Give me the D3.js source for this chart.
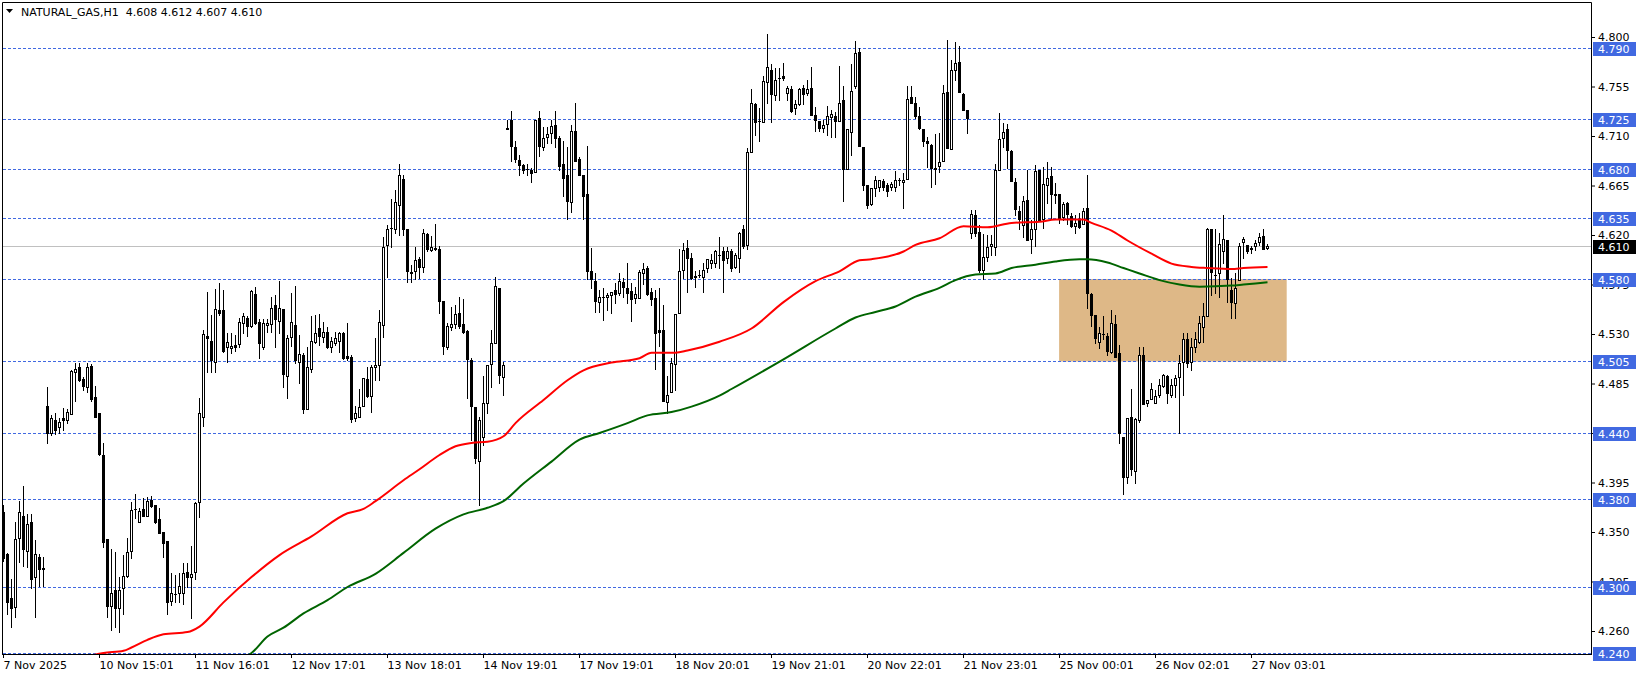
<!DOCTYPE html>
<html><head><meta charset="utf-8">
<script src="https://cdn.jsdelivr.net/npm/d3@7"></script>
<style>
html,body{margin:0;padding:0;background:#fff;}
svg{display:block;}
text{font-family:"DejaVu Sans",sans-serif;font-size:11px;}
</style>
</head><body>
<svg id="chart" width="1641" height="678"></svg>
<script>
// ---------------- DATA ----------------
const symbolTitle = "NATURAL_GAS,H1";
const lastOHLC = [4.608, 4.612, 4.607, 4.610];
const currentPrice = 4.610;

const open = [
4.368,4.330,4.290,4.282,4.345,4.365,4.333,4.359,4.309,4.327,
4.317,4.465,4.440,4.452,4.445,4.454,4.452,4.457,4.495,4.500,
4.489,4.482,4.501,4.473,4.458,4.420,4.344,4.283,4.297,4.281,
4.299,4.310,4.333,4.370,4.359,4.371,4.365,4.379,4.375,4.362,
4.350,4.342,4.287,4.293,4.295,4.295,4.314,4.309,4.314,4.377,
4.455,4.528,4.524,4.505,4.552,4.552,4.518,4.517,4.520,4.521,
4.540,4.545,4.537,4.566,4.541,4.518,4.538,4.539,4.556,4.542,
4.553,4.492,4.527,4.538,4.505,4.511,4.462,4.498,4.523,4.535,
4.527,4.532,4.518,4.522,4.524,4.531,4.510,4.509,4.454,4.455,
4.465,4.489,4.474,4.500,4.502,4.538,4.611,4.625,4.625,4.647,
4.671,4.625,4.586,4.587,4.598,4.591,4.621,4.606,4.608,4.607,
4.560,4.518,4.536,4.539,4.549,4.539,4.533,4.506,4.464,4.415,
4.436,4.467,4.503,4.522,4.572,4.491,4.717,4.725,4.700,4.688,
4.684,4.680,4.679,4.677,4.726,4.700,4.709,4.713,4.720,4.708,
4.685,4.675,4.650,4.715,4.689,4.675,4.657,4.587,4.578,4.559,
4.563,4.564,4.565,4.570,4.567,4.577,4.572,4.569,4.563,4.563,
4.585,4.590,4.568,4.563,4.534,4.534,4.468,4.477,4.503,4.549,
4.588,4.608,4.599,4.583,4.583,4.582,4.590,4.595,4.595,4.601,
4.605,4.599,4.605,4.591,4.599,4.625,4.611,4.695,4.739,4.723,
4.723,4.759,4.770,4.747,4.762,4.765,4.749,4.753,4.735,4.739,
4.754,4.749,4.754,4.729,4.724,4.717,4.721,4.727,4.728,4.724,
4.743,4.680,4.714,4.755,4.786,4.700,4.665,4.648,4.663,4.664,
4.669,4.665,4.664,4.664,4.669,4.668,4.671,4.745,4.740,4.728,
4.716,4.705,4.702,4.681,4.683,4.687,4.750,4.698,4.770,4.777,
4.748,4.734,4.622,4.638,4.623,4.588,4.600,4.610,4.609,4.679,
4.708,4.716,4.696,4.668,4.642,4.629,4.652,4.616,4.625,4.679,
4.635,4.665,4.674,4.657,4.657,4.636,4.649,4.637,4.628,4.634,
4.630,4.645,4.566,4.547,4.523,4.529,4.528,4.514,4.539,4.513,
4.436,4.400,4.455,4.405,4.452,4.511,4.467,4.471,4.467,4.475,
4.483,4.492,4.475,4.484,4.491,4.505,4.525,4.505,4.518,4.523,
4.536,4.546,4.625,4.583,4.585,4.605,4.615,4.570,4.558,4.579,
4.614,4.611,4.608,4.610,4.614,4.619,4.608];

const high = [
4.375,4.331,4.307,4.359,4.378,4.392,4.366,4.366,4.343,4.330,
4.327,4.482,4.456,4.458,4.454,4.463,4.462,4.497,4.504,4.504,
4.491,4.504,4.503,4.483,4.458,4.431,4.344,4.335,4.332,4.309,
4.329,4.345,4.377,4.385,4.372,4.381,4.382,4.383,4.375,4.372,
4.350,4.342,4.313,4.311,4.313,4.322,4.322,4.337,4.377,4.472,
4.534,4.568,4.547,4.571,4.576,4.570,4.531,4.531,4.529,4.545,
4.549,4.546,4.570,4.573,4.544,4.544,4.544,4.564,4.565,4.578,
4.553,4.529,4.567,4.574,4.529,4.513,4.518,4.546,4.547,4.548,
4.541,4.536,4.527,4.532,4.532,4.532,4.540,4.511,4.465,4.480,
4.490,4.500,4.502,4.526,4.552,4.618,4.629,4.653,4.661,4.685,
4.675,4.625,4.593,4.609,4.600,4.625,4.622,4.619,4.630,4.610,
4.560,4.540,4.555,4.556,4.564,4.562,4.534,4.508,4.464,4.455,
4.492,4.502,4.534,4.582,4.572,4.505,4.725,4.733,4.705,4.693,
4.685,4.685,4.681,4.725,4.733,4.718,4.718,4.725,4.733,4.710,
4.705,4.700,4.720,4.740,4.691,4.675,4.701,4.608,4.585,4.570,
4.572,4.567,4.568,4.576,4.585,4.581,4.595,4.576,4.573,4.588,
4.595,4.592,4.572,4.570,4.572,4.556,4.492,4.508,4.548,4.607,
4.613,4.615,4.604,4.587,4.588,4.595,4.598,4.603,4.606,4.618,
4.609,4.609,4.607,4.604,4.623,4.629,4.699,4.753,4.740,4.735,
4.765,4.803,4.775,4.772,4.772,4.776,4.755,4.755,4.743,4.754,
4.756,4.761,4.773,4.736,4.724,4.725,4.737,4.734,4.732,4.774,
4.755,4.716,4.775,4.796,4.790,4.700,4.665,4.663,4.674,4.670,
4.671,4.667,4.668,4.678,4.672,4.676,4.755,4.755,4.745,4.736,
4.716,4.709,4.703,4.712,4.713,4.756,4.797,4.779,4.795,4.792,
4.749,4.734,4.643,4.643,4.629,4.621,4.620,4.620,4.685,4.731,
4.722,4.721,4.697,4.672,4.646,4.655,4.679,4.634,4.684,4.679,
4.682,4.686,4.682,4.667,4.657,4.650,4.650,4.640,4.638,4.640,
4.645,4.675,4.567,4.547,4.536,4.546,4.531,4.552,4.547,4.520,
4.436,4.454,4.480,4.454,4.518,4.518,4.470,4.485,4.479,4.489,
4.494,4.493,4.489,4.493,4.511,4.531,4.531,4.526,4.532,4.546,
4.558,4.626,4.625,4.625,4.622,4.638,4.615,4.581,4.585,4.613,
4.618,4.611,4.610,4.615,4.622,4.625,4.612];

const low = [
4.324,4.275,4.264,4.273,4.323,4.319,4.318,4.299,4.273,4.301,
4.301,4.431,4.438,4.439,4.440,4.443,4.449,4.457,4.469,4.487,
4.479,4.477,4.469,4.455,4.420,4.336,4.273,4.261,4.264,4.259,
4.275,4.309,4.326,4.363,4.359,4.365,4.365,4.373,4.358,4.349,
4.327,4.275,4.284,4.286,4.286,4.285,4.300,4.272,4.307,4.364,
4.446,4.495,4.495,4.495,4.547,4.514,4.505,4.513,4.515,4.518,
4.531,4.528,4.536,4.539,4.508,4.516,4.532,4.532,4.518,4.531,
4.482,4.472,4.519,4.504,4.485,4.458,4.462,4.495,4.522,4.520,
4.523,4.517,4.514,4.520,4.514,4.507,4.506,4.450,4.451,4.455,
4.465,4.473,4.459,4.488,4.488,4.527,4.582,4.609,4.622,4.620,
4.620,4.577,4.577,4.580,4.581,4.586,4.605,4.605,4.606,4.549,
4.512,4.516,4.534,4.535,4.535,4.531,4.472,4.434,4.413,4.375,
4.429,4.458,4.482,4.522,4.485,4.475,4.716,4.687,4.686,4.675,
4.676,4.675,4.668,4.677,4.692,4.697,4.704,4.704,4.700,4.679,
4.655,4.635,4.641,4.687,4.675,4.635,4.580,4.572,4.550,4.550,
4.543,4.552,4.549,4.558,4.565,4.564,4.558,4.542,4.558,4.563,
4.575,4.565,4.556,4.498,4.519,4.469,4.458,4.477,4.479,4.549,
4.581,4.568,4.580,4.573,4.582,4.568,4.586,4.590,4.591,4.590,
4.568,4.595,4.587,4.590,4.586,4.608,4.607,4.695,4.711,4.705,
4.723,4.740,4.723,4.743,4.743,4.761,4.743,4.732,4.730,4.738,
4.739,4.747,4.729,4.715,4.715,4.714,4.711,4.709,4.709,4.724,
4.651,4.680,4.693,4.754,4.701,4.661,4.645,4.647,4.655,4.660,
4.661,4.655,4.661,4.660,4.665,4.645,4.671,4.740,4.726,4.716,
4.701,4.682,4.664,4.666,4.677,4.687,4.699,4.698,4.761,4.750,
4.734,4.713,4.617,4.619,4.586,4.580,4.596,4.602,4.602,4.679,
4.700,4.681,4.669,4.638,4.625,4.618,4.615,4.604,4.610,4.633,
4.626,4.649,4.635,4.649,4.631,4.634,4.630,4.627,4.622,4.626,
4.630,4.554,4.537,4.522,4.517,4.525,4.511,4.513,4.509,4.431,
4.385,4.395,4.402,4.395,4.450,4.466,4.465,4.471,4.467,4.473,
4.482,4.467,4.473,4.473,4.440,4.475,4.500,4.497,4.514,4.522,
4.523,4.546,4.565,4.567,4.564,4.595,4.559,4.545,4.545,4.579,
4.599,4.604,4.604,4.606,4.611,4.607,4.607];

const close = [
4.326,4.286,4.281,4.344,4.368,4.335,4.357,4.307,4.330,4.316,
4.316,4.440,4.454,4.443,4.450,4.452,4.459,4.496,4.498,4.488,
4.483,4.500,4.471,4.455,4.421,4.341,4.283,4.295,4.281,4.297,
4.310,4.332,4.370,4.371,4.369,4.365,4.378,4.374,4.359,4.349,
4.340,4.286,4.295,4.294,4.301,4.313,4.309,4.312,4.376,4.458,
4.530,4.526,4.506,4.553,4.549,4.515,4.523,4.519,4.518,4.541,
4.546,4.537,4.569,4.540,4.522,4.540,4.540,4.554,4.544,4.554,
4.494,4.526,4.541,4.506,4.512,4.462,4.500,4.524,4.531,4.528,
4.532,4.518,4.524,4.526,4.531,4.508,4.508,4.453,4.458,4.464,
4.490,4.474,4.500,4.502,4.541,4.609,4.625,4.626,4.650,4.675,
4.625,4.587,4.585,4.597,4.591,4.622,4.607,4.609,4.607,4.560,
4.519,4.537,4.539,4.548,4.537,4.532,4.507,4.465,4.417,4.452,
4.467,4.502,4.522,4.574,4.493,4.502,4.716,4.701,4.689,4.684,
4.679,4.680,4.676,4.725,4.701,4.708,4.712,4.719,4.708,4.683,
4.672,4.651,4.715,4.687,4.675,4.655,4.587,4.580,4.560,4.564,
4.564,4.565,4.568,4.566,4.578,4.573,4.567,4.562,4.566,4.586,
4.589,4.566,4.562,4.531,4.532,4.469,4.475,4.504,4.548,4.587,
4.606,4.599,4.581,4.582,4.584,4.588,4.598,4.597,4.605,4.602,
4.597,4.605,4.590,4.602,4.622,4.610,4.695,4.740,4.723,4.724,
4.760,4.773,4.748,4.761,4.763,4.763,4.754,4.733,4.739,4.753,
4.748,4.753,4.729,4.725,4.717,4.720,4.728,4.730,4.724,4.740,
4.680,4.716,4.751,4.785,4.701,4.665,4.647,4.663,4.670,4.670,
4.664,4.660,4.666,4.670,4.670,4.670,4.744,4.740,4.728,4.717,
4.705,4.704,4.681,4.680,4.686,4.749,4.699,4.770,4.776,4.750,
4.734,4.726,4.639,4.622,4.588,4.600,4.609,4.612,4.679,4.707,
4.714,4.697,4.669,4.644,4.635,4.651,4.615,4.625,4.678,4.634,
4.666,4.672,4.657,4.656,4.635,4.648,4.639,4.628,4.631,4.627,
4.642,4.567,4.547,4.526,4.531,4.530,4.515,4.540,4.509,4.440,
4.400,4.454,4.407,4.453,4.511,4.466,4.470,4.480,4.474,4.484,
4.493,4.476,4.484,4.490,4.504,4.525,4.504,4.518,4.525,4.540,
4.546,4.625,4.586,4.584,4.612,4.616,4.580,4.559,4.572,4.610,
4.616,4.605,4.607,4.613,4.618,4.607,4.610];

// moving averages: [bar index, value]
const maRed = [[20,4.236],[25,4.240],[30,4.242],[32,4.245],[36,4.252],[40,4.257],[46,4.259],[49,4.264],[55,4.286],[62,4.309],[69,4.329],[77,4.346],[86,4.367],[90,4.371],[93,4.378],[100,4.397],[104,4.407],[109,4.420],[113,4.428],[117,4.431],[121,4.432],[125,4.437],[128,4.449],[135,4.470],[141,4.488],[145,4.497],[152,4.504],[159,4.508],[162,4.513],[168,4.513],[171,4.515],[179,4.523],[187,4.535],[195,4.559],[203,4.578],[209,4.587],[214,4.597],[217,4.598],[225,4.605],[228,4.611],[234,4.617],[240,4.628],[246,4.627],[252,4.631],[259,4.632],[263,4.634],[270,4.634],[272,4.631],[277,4.624],[281,4.615],[287,4.603],[292,4.594],[297,4.591],[301,4.590],[307,4.589],[310,4.590],[316,4.591]];
const maGreen = [[57,4.233],[62,4.240],[66,4.255],[70,4.263],[75,4.276],[81,4.288],[86,4.300],[93,4.312],[100,4.331],[108,4.353],[115,4.366],[121,4.372],[125,4.378],[130,4.394],[137,4.414],[144,4.434],[149,4.440],[156,4.449],[161,4.456],[167,4.459],[172,4.464],[179,4.474],[182,4.480],[195,4.507],[208,4.535],[213,4.545],[218,4.550],[223,4.555],[228,4.564],[234,4.572],[238,4.579],[243,4.584],[248,4.585],[252,4.590],[258,4.593],[263,4.596],[269,4.598],[271,4.598],[276,4.595],[280,4.590],[284,4.585],[289,4.579],[294,4.575],[299,4.573],[307,4.574],[310,4.575],[316,4.577]];

const timeTickBars = [0,24,48,72,96,120,144,168,192,216,240,264,288,312];
const timeTickLabels = ["7 Nov 2025","10 Nov 15:01","11 Nov 16:01","12 Nov 17:01","13 Nov 18:01","14 Nov 19:01","17 Nov 19:01","18 Nov 20:01","19 Nov 21:01","20 Nov 22:01","21 Nov 23:01","25 Nov 00:01","26 Nov 02:01","27 Nov 03:01"];
const priceTicks = [4.800,4.755,4.710,4.665,4.620,4.575,4.530,4.485,4.440,4.395,4.350,4.305,4.260];
const levels = [4.790,4.725,4.680,4.635,4.580,4.505,4.440,4.380,4.300,4.240];
const zoneBars = [263.9, 320.8];
const zonePrices = [4.580, 4.505];

// ---------------- DRAW ----------------
const W = 1641, H = 678;
const frameL = 2.5, frameT = 2.5, frameR = 1591.5, frameB = 654.5;
const x = d3.scaleLinear().domain([0, 312]).range([3.5, 1251.5]);
const y = d3.scaleLinear().domain([4.24, 4.80]).range([653, 37]);
const py = v => Math.floor(y(v) + 0.001) + 0.5;

const svg = d3.select("#chart");
svg.append("rect").attr("width", W).attr("height", H).attr("fill", "#fff");
svg.append("defs").append("clipPath").attr("id", "plotClip")
  .append("rect").attr("x", 3).attr("y", 3).attr("width", 1588).attr("height", 651);
const plot = svg.append("g").attr("clip-path", "url(#plotClip)");

// zone rectangle
plot.append("rect")
  .attr("x", x(zoneBars[0])).attr("width", x(zoneBars[1]) - x(zoneBars[0]))
  .attr("y", y(zonePrices[0])).attr("height", y(zonePrices[1]) - y(zonePrices[0]))
  .attr("fill", "#DEB887");

// current price line
plot.append("line").attr("x1", 3).attr("x2", 1591)
  .attr("y1", py(currentPrice)).attr("y2", py(currentPrice))
  .attr("stroke", "#c0c0c0").attr("stroke-width", 1);

// horizontal levels
plot.selectAll("line.level").data(levels).join("line").attr("class", "level")
  .attr("x1", 3).attr("x2", 1591)
  .attr("y1", d => py(d)).attr("y2", d => py(d))
  .attr("stroke", "#4169E1").attr("stroke-width", 1).attr("stroke-dasharray", "3,2");

// candles
const candles = d3.range(open.length).map(i => ({ i, o: open[i], h: high[i], l: low[i], c: close[i] }));
const cg = plot.append("g");
cg.selectAll("line.wick").data(candles).join("line").attr("class", "wick")
  .attr("x1", d => x(d.i)).attr("x2", d => x(d.i))
  .attr("y1", d => Math.round(y(d.h))).attr("y2", d => Math.round(y(d.l)) + 1)
  .attr("stroke", "#000").attr("stroke-width", 1);
candles.forEach(d => {
  const top = Math.round(y(Math.max(d.o, d.c)));
  const bot = Math.round(y(Math.min(d.o, d.c)));
  const cx = x(d.i);
  if (d.c < d.o || bot - top <= 1) {
    cg.append("rect").attr("x", cx - 1.5).attr("width", 3)
      .attr("y", top).attr("height", Math.max(1, bot - top + (d.c < d.o ? 1 : 0)))
      .attr("fill", "#000");
  } else {
    cg.append("rect").attr("x", cx - 1).attr("width", 2)
      .attr("y", top + 0.5).attr("height", bot - top)
      .attr("fill", "#fff").attr("stroke", "#000").attr("stroke-width", 1);
  }
});

// moving averages
const line = d3.line().x(d => x(d[0])).y(d => y(d[1])).curve(d3.curveMonotoneX);
plot.append("path").datum(maRed).attr("d", line)
  .attr("fill", "none").attr("stroke", "#ff0000").attr("stroke-width", 2);
plot.append("path").datum(maGreen).attr("d", line)
  .attr("fill", "none").attr("stroke", "#006400").attr("stroke-width", 2);

// frame
const frame = svg.append("g").attr("stroke", "#000").attr("stroke-width", 1);
frame.append("line").attr("x1", frameL).attr("x2", frameL).attr("y1", frameT).attr("y2", frameB + 0.5);
frame.append("line").attr("x1", frameL).attr("x2", frameR).attr("y1", frameT).attr("y2", frameT);
frame.append("line").attr("x1", frameR).attr("x2", frameR).attr("y1", frameT).attr("y2", frameB + 0.5);
frame.append("line").attr("x1", frameL).attr("x2", frameR + 0.5).attr("y1", frameB).attr("y2", frameB);

// price axis
const axY = svg.append("g").attr("transform", "translate(1591,0)")
  .call(d3.axisRight(y).tickValues(priceTicks).tickSize(4).tickPadding(3).tickFormat(d3.format(".3f")));
axY.select(".domain").remove();
axY.attr("font-family", "DejaVu Sans").attr("font-size", 11);
axY.selectAll("line").attr("stroke", "#000");
axY.selectAll("text").attr("fill", "#000");

// time axis
const axX = svg.append("g").attr("transform", "translate(0,654)")
  .call(d3.axisBottom(x).offset(0).tickValues(timeTickBars).tickSize(4).tickPadding(3)
    .tickFormat((d, i) => timeTickLabels[i]));
axX.select(".domain").remove();
axX.attr("font-family", "DejaVu Sans").attr("font-size", 11);
axX.selectAll("line").attr("stroke", "#000");
axX.selectAll("text").attr("fill", "#000").attr("text-anchor", "start");

// level labels
const lab = svg.append("g");
levels.forEach(v => {
  const yy = Math.floor(y(v) + 0.001);
  lab.append("rect").attr("x", 1593).attr("y", yy - 6).attr("width", 43).attr("height", 14).attr("fill", "#4169E1");
  lab.append("text").attr("x", 1598).attr("y", yy + 5).attr("fill", "#fff").text(d3.format(".3f")(v));
});
{
  const yy = Math.floor(y(currentPrice) + 0.001);
  lab.append("rect").attr("x", 1593).attr("y", yy - 6).attr("width", 43).attr("height", 14).attr("fill", "#000");
  lab.append("text").attr("x", 1598).attr("y", yy + 5).attr("fill", "#fff").text(d3.format(".3f")(currentPrice));
}

// title
svg.append("path").attr("d", "M6,9 L13,9 L9.5,13 Z").attr("fill", "#000");
svg.append("text").attr("x", 21).attr("y", 16).attr("fill", "#000").style("white-space", "pre")
  .text(symbolTitle + "  " + lastOHLC.map(d3.format(".3f")).join(" "));
</script>
</body></html>
